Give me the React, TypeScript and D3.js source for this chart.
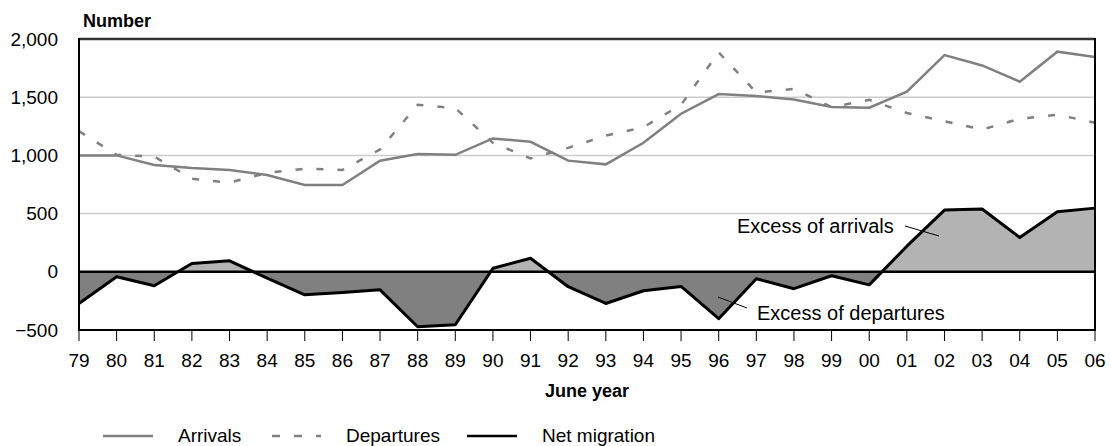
import React from "react";
import * as d3 from "d3";

const years = ["79","80","81","82","83","84","85","86","87","88","89","90","91","92","93","94","95","96","97","98","99","00","01","02","03","04","05","06"];
const arrivals = [1000,1000,917,891,874,831,745,745,954,1011,1005,1146,1117,955,923,1109,1358,1527,1510,1481,1415,1410,1547,1862,1773,1633,1891,1845];
const departures = [1208,1005,990,800,766,850,886,875,1051,1435,1406,1108,974,1065,1170,1242,1435,1885,1540,1571,1415,1477,1364,1293,1222,1315,1350,1280];
const netMigration = [-272,-43,-120,71,94,-54,-198,-178,-155,-472,-455,30,117,-128,-272,-163,-126,-403,-60,-145,-34,-112,220,530,539,295,515,547];
const yTicks = [-500,0,500,1000,1500,2000];
const gridValues = [500,1000,1500];

const W = 1111, H = 446;
const L = 79, R = 1095, T = 39, B = 330;
const FONT = "'Liberation Sans', Arial, sans-serif";

export default function App() {
  const x = d3.scalePoint<string>().domain(years).range([L, R]);
  const y = d3.scaleLinear().domain([-500, 2000]).range([B, T]);
  const idx = years.map((_, i) => i);
  const xi = (i: number) => x(years[i]) as number;

  const line = (vals: number[]) =>
    d3.line<number>().x((i) => xi(i)).y((i) => y(vals[i]))(idx) || "";
  const area =
    d3.area<number>().x((i) => xi(i)).y0(y(0)).y1((i) => y(netMigration[i]))(idx) || "";

  const fmt = d3.format(",");
  const y0 = y(0);

  return (
    <svg width={W} height={H} style={{ position: "absolute", left: 0, top: 0, background: "#fff" }} fontFamily={FONT}>
      <defs>
        <clipPath id="above"><rect x={L} y={T} width={R - L} height={y0 - T} /></clipPath>
        <clipPath id="below"><rect x={L} y={y0} width={R - L} height={B - y0} /></clipPath>
      </defs>
      {gridValues.map((v) => (
        <line key={v} x1={L} x2={R} y1={y(v)} y2={y(v)} stroke="#cccccc" strokeWidth={1.5} />
      ))}
      <path d={area} fill="#b3b3b3" clipPath="url(#above)" />
      <path d={area} fill="#808080" clipPath="url(#below)" />
      <path d={line(arrivals)} fill="none" stroke="#808080" strokeWidth={2.5} />
      <path d={line(departures)} fill="none" stroke="#808080" strokeWidth={2.5} strokeDasharray="7,14" />
      <line x1={L} x2={R} y1={y0} y2={y0} stroke="#000" strokeWidth={2.5} />
      <path d={line(netMigration)} fill="none" stroke="#000" strokeWidth={3} strokeLinejoin="round" />
      {/* frame */}
      <line x1={L} x2={R} y1={T} y2={T} stroke="#333" strokeWidth={2.5} />
      <line x1={L} x2={R} y1={B} y2={B} stroke="#000" strokeWidth={2} />
      <line x1={L} x2={L} y1={T - 1} y2={B + 1} stroke="#000" strokeWidth={2} />
      <line x1={R} x2={R} y1={T - 1} y2={B + 1} stroke="#000" strokeWidth={2} />
      {/* x ticks */}
      {years.map((yr) => (
        <g key={yr}>
          <line x1={x(yr)} x2={x(yr)} y1={B} y2={B + 11} stroke="#000" strokeWidth={1} />
          <text x={x(yr)} y={367} textAnchor="middle" fontSize={19} fill="#000">{yr}</text>
        </g>
      ))}
      {/* y ticks */}
      {yTicks.map((v) => (
        <text key={v} x={58} y={y(v)} dy="0.35em" textAnchor="end" fontSize={19} fill="#000">{fmt(v)}</text>
      ))}
      <text x={83} y={27} fontSize={18} fontWeight="bold" fill="#000">Number</text>
      <text x={(L + R) / 2} y={397} textAnchor="middle" fontSize={18} fontWeight="bold" fill="#000">June year</text>
      {/* annotations */}
      <text x={737} y={233} fontSize={20} fill="#000">Excess of arrivals</text>
      <line x1={905} y1={226} x2={939} y2={236} stroke="#000" strokeWidth={1} />
      <text x={757} y={320} fontSize={20} fill="#000">Excess of departures</text>
      <line x1={718} y1={297} x2={747} y2={308} stroke="#000" strokeWidth={1} />
      {/* legend */}
      <line x1={103} x2={153} y1={436} y2={436} stroke="#808080" strokeWidth={2.5} />
      <text x={178} y={442} fontSize={19} fill="#000">Arrivals</text>
      <line x1={272} x2={321} y1={436} y2={436} stroke="#808080" strokeWidth={2.5} strokeDasharray="8,14" />
      <text x={346} y={442} fontSize={19} fill="#000">Departures</text>
      <line x1={467} x2={517} y1={436} y2={436} stroke="#000" strokeWidth={2.5} />
      <text x={542} y={442} fontSize={19} fill="#000">Net migration</text>
    </svg>
  );
}
